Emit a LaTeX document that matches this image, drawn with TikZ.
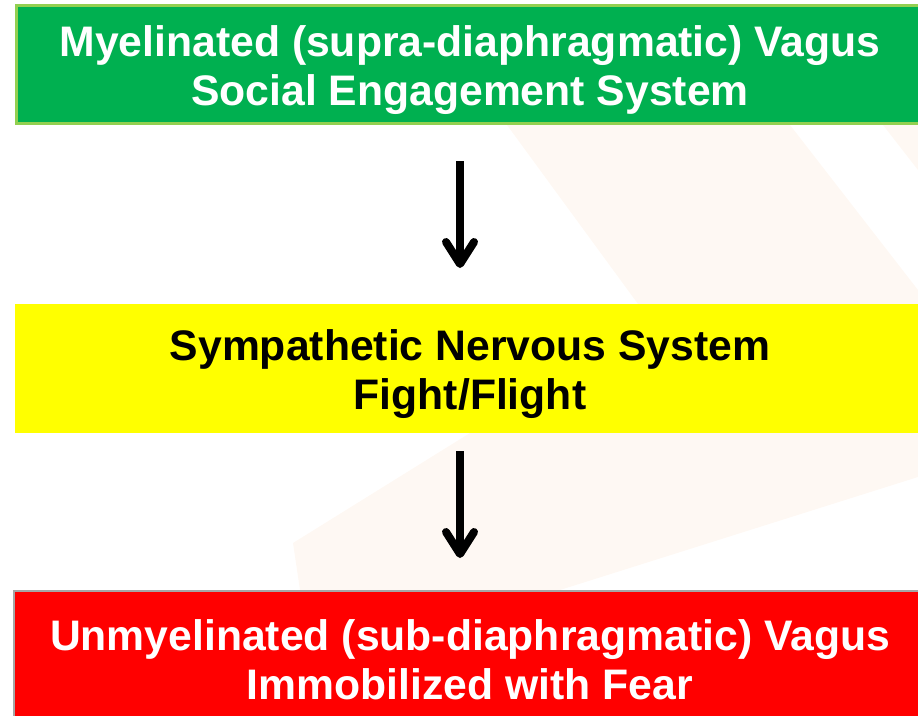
\documentclass[tikz,border=0pt]{standalone}
\usepackage{fontspec}
\setmainfont{Liberation Sans}
\definecolor{stagegreen1}{RGB}{0, 176, 80}
\definecolor{stagegreen3}{RGB}{146, 208, 80}
\definecolor{stageyellow1}{RGB}{255, 255, 0}
\definecolor{stagered1}{RGB}{255, 0, 0}
\definecolor{stagegray}{RGB}{166, 166, 166}
\definecolor{bgpeach}{RGB}{254, 248, 243}
\usetikzlibrary{arrows.meta, positioning}

\begin{document}
\begin{tikzpicture}[
    x=1pt, y=-1pt,
    every node/.append style={font=\fontsize{42.7}{49}\selectfont\bfseries},
  ]

  \tikzset{
    stage-box/.style={
      minimum width=907pt, inner sep=0pt, outer sep=0pt, align=center,
      text height=82pt, text depth=0pt,
    },
    stage-top/.style={
      stage-box, fill=stagegreen1, draw=stagegreen3, line width=3pt,
      minimum height=118pt, text=white,
    },
    stage-mid/.style={
      stage-box, fill=stageyellow1, draw=none, minimum width=910pt,
      minimum height=129pt, text=black,
    },
    stage-low/.style={
      stage-box, fill=stagered1, draw=stagegray, line width=2pt,
      minimum width=912pt, minimum height=134pt, text=white,
    },
    flow-arrow/.style={
      -{Straight Barb[length=22pt, width=28pt, round]},
      line width=8pt, color=black,
    },
  }

  \clip (0, 0) rectangle (918, 715);

  %% ---------------- FAINT BACKDROP ----------------
  \fill[bgpeach] (507, 125) -- (790, 125) -- (918, 290) -- (918, 304)
    -- (638, 304) -- cycle;
  \fill[bgpeach] (883, 125) -- (918, 125) -- (918, 170) -- cycle;
  \fill[bgpeach] (470, 433) -- (918, 433) -- (918, 477) -- (560, 590)
    -- (300, 590) -- (293, 543) -- cycle;

  %% ---------------- STAGES ----------------
  % top: myelinated vagus
  \node[stage-top] (vagus-top) at (470, 64.5)
    {Myelinated (supra-diaphragmatic) Vagus\\Social Engagement System};
  % middle: sympathetic
  \node[stage-mid, below=180.5pt of vagus-top] (sympathetic)
    {Sympathetic Nervous System\\Fight/Flight};
  % bottom: unmyelinated vagus
  \node[stage-low, below=158pt of sympathetic] (vagus-low)
    {Unmyelinated (sub-diaphragmatic) Vagus\\Immobilized with Fear};

  %% ---------------- ARROWS ----------------
  \draw[flow-arrow, shorten <=37.5pt, shorten >=36pt]
    ([xshift=-10pt]vagus-top.south) -- ([xshift=-10pt]sympathetic.north);
  \draw[flow-arrow, shorten <=18pt, shorten >=33pt]
    ([xshift=-10pt]sympathetic.south) -- ([xshift=-10pt]vagus-low.north);

\end{tikzpicture}
\end{document}
